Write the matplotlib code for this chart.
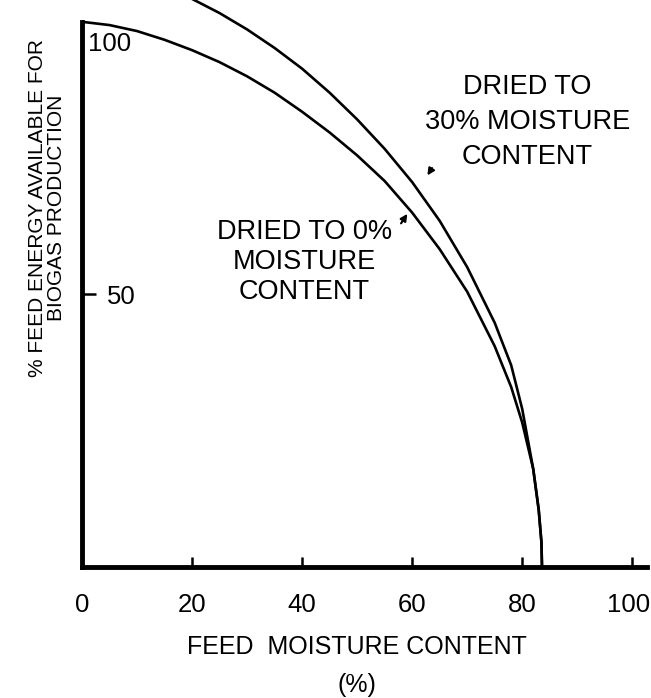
import matplotlib
matplotlib.use('Agg')
import matplotlib.pyplot as plt
from matplotlib.transforms import ScaledTranslation

plt.rcParams['font.family'] = ['Liberation Sans', 'DejaVu Sans']

# Curva: seco a 0% de umidade (curva interna)
dry0_x = [0, 5, 10, 15, 20, 25, 30, 35, 40, 45, 50, 55, 60, 65, 70, 75, 78, 80, 82, 83, 83.5, 83.6]
dry0_y = [100, 99.4, 98.3, 96.7, 94.8, 92.6, 90.0, 87.0, 83.5, 79.7, 75.5, 70.8, 65.0, 58.3, 50.5, 40.5,
          33.0, 26.5, 18.0, 10.5, 4.5, 0]

# Curva: seco a 30% de umidade (curva externa)
dry30_x = [18, 20, 25, 30, 35, 40, 45, 50, 55, 60, 65, 70, 75, 78, 80, 82, 83, 83.5, 83.6]
dry30_y = [105.3, 104.2, 101.6, 98.6, 95.2, 91.4, 87.0, 82.1, 76.7, 70.6, 63.5, 55.0, 44.8, 37.0, 29.0,
           18.0, 10.5, 4.5, 0]

x_ticks = [0, 20, 40, 60, 80, 100]
y_ticks = [50, 100]

fig = plt.figure(figsize=(6.51, 6.98), dpi=100)
ax = fig.add_axes([0.126, 0.1877, 0.868, 0.8123])

ax.plot(dry0_x, dry0_y, color='black', lw=1.9)
ax.plot(dry30_x, dry30_y, color='black', lw=1.9)

ax.set_xlim(0, 102.7)
ax.set_ylim(0, 104)

for s in ['top', 'right']:
    ax.spines[s].set_visible(False)
ax.spines['left'].set_bounds(0, 100)
ax.spines['left'].set_linewidth(3.5)
ax.spines['bottom'].set_linewidth(3.5)

ax.set_xticks(x_ticks)
ax.set_yticks(y_ticks)
ax.tick_params(axis='x', direction='in', length=7, width=1.8, pad=19, labelsize=18.5)
ax.tick_params(axis='y', direction='in', length=10, width=1.8, pad=-18, labelsize=18.5)
for lab in ax.get_yticklabels():
    lab.set_ha('left')

# rótulo 100 fica logo abaixo do topo do eixo, sem marca
ax.yaxis.get_major_ticks()[-1].tick1line.set_visible(False)
lab100 = ax.get_yticklabels()[-1]
lab100.set_va('top')
lab100.set_transform(lab100.get_transform() + ScaledTranslation(-0.19, -0.10, fig.dpi_scale_trans))
labx100 = ax.get_xticklabels()[-1]
labx100.set_transform(labx100.get_transform() + ScaledTranslation(-0.04, 0, fig.dpi_scale_trans))

ax.set_xlabel('FEED  MOISTURE CONTENT\n(%)', fontsize=18, linespacing=1.75)
ax.xaxis.set_label_coords(0.487, -0.120)
ax.set_ylabel('% FEED ENERGY AVAILABLE FOR\nBIOGAS PRODUCTION', fontsize=15, linespacing=1.0)
ax.yaxis.set_label_coords(-0.028, 0.634)

ax.text(80.9, 81.6, 'DRIED TO\n30% MOISTURE\nCONTENT', ha='center', va='center',
        fontsize=19.5, linespacing=1.45)
ax.text(40.4, 56.0, 'DRIED TO 0%\nMOISTURE\nCONTENT', ha='center', va='center',
        fontsize=19.5, linespacing=1.2)

ax.annotate('', xy=(62.5, 71.4), xytext=(63.9, 73.6),
            arrowprops=dict(arrowstyle='-|>', color='black', lw=1.5, mutation_scale=10))
ax.annotate('', xy=(59.4, 65.2), xytext=(57.7, 62.6),
            arrowprops=dict(arrowstyle='-|>', color='black', lw=1.5, mutation_scale=10))

fig.savefig('out.png', dpi=100)
